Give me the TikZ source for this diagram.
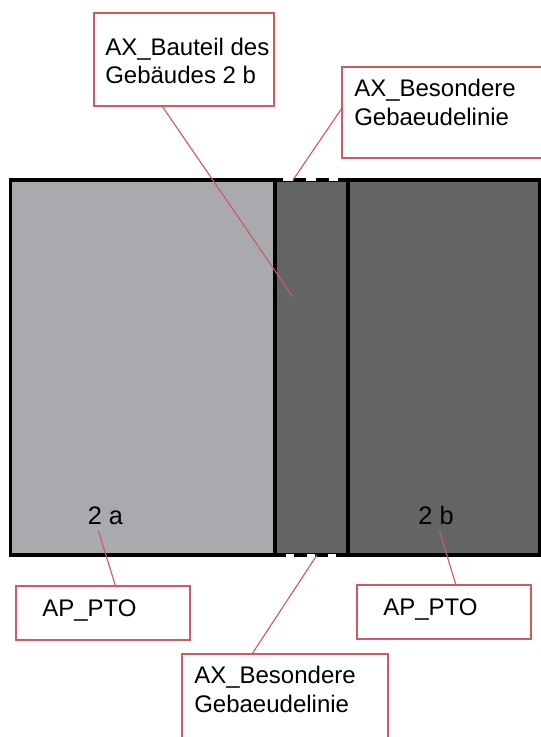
\documentclass[tikz,border=0pt]{standalone}
\usepackage{fontspec}
\usetikzlibrary{calc}
\setmainfont{Liberation Sans}
\definecolor{calloutred}{HTML}{CF5A60}
\definecolor{lightgrey}{HTML}{A9AAAD}
\definecolor{darkgrey}{HTML}{636466}
\tikzset{
  calloutbox/.style={draw=calloutred,line width=0.95pt,fill=white,rectangle,anchor=north west,inner sep=0pt,outer sep=0pt},
  callouttext/.style={anchor=base west,inner sep=0pt,font=\fontsize{18pt}{21pt}\selectfont,align=left,text=black},
  partlabel/.style={anchor=base,inner sep=0pt,font=\fontsize{19pt}{21pt}\selectfont,text=black},
  leader/.style={draw=calloutred,line width=0.85pt},
  outline/.style={draw=black,line width=2.35pt},
  gapmark/.style={draw=white,line width=3pt}
}
\begin{document}
\begin{tikzpicture}[x=0.75pt,y=-0.75pt]
\useasboundingbox (0,0) rectangle (541,737);
\fill[lightgrey] (11,180) rectangle (275,555);
\fill[darkgrey] (275,180) rectangle (540,555);
\draw[outline] (10.8,180) rectangle (539.6,555);
\draw[outline] (275,180) -- (275,555);
\draw[outline] (348,180) -- (348,555);
\draw[gapmark] (283,178.7) -- (293,178.7) (306,178.7) -- (316,178.7) (329,178.7) -- (338,178.7);
\draw[gapmark] (286,556.3) -- (294,556.3) (307,556.3) -- (315,556.3) (328,556.3) -- (336,556.3);
% boxes
\node[calloutbox,minimum width=180*0.75pt,minimum height=93*0.75pt] (bauteil) at (94,13) {};
\node[calloutbox,minimum width=210*0.75pt,minimum height=91*0.75pt] (linieoben) at (342,67) {};
\node[calloutbox,minimum width=174*0.75pt,minimum height=54*0.75pt] (ptoa) at (16,586) {};
\node[calloutbox,minimum width=174*0.75pt,minimum height=54*0.75pt] (ptob) at (357,585) {};
\node[calloutbox,minimum width=206*0.75pt,minimum height=95*0.75pt] (linieunten) at (182,654) {};
% texts
\node[callouttext] (tbauteila) at (105,55.5) {AX\_Bauteil des};
\node[callouttext] (tbauteilb) at (105,83.5) {Gebäudes 2 b};
\node[callouttext] (tobena) at (354,97) {AX\_Besondere};
\node[callouttext] (tobenb) at (354,126) {Gebaeudelinie};
\node[callouttext] (tptoa) at (42,616) {AP\_PTO};
\node[callouttext] (tptob) at (383,615) {AP\_PTO};
\node[callouttext] (tuntena) at (194,683.5) {AX\_Besondere};
\node[callouttext] (tuntenb) at (194,712.5) {Gebaeudelinie};
\node[partlabel] (zweia) at (105.5,524.5) {2 a};
\node[partlabel] (zweib) at (436,524.5) {2 b};
% free ends
\coordinate (tipbauteil) at (293,297);
\coordinate (tipoben) at (293,180);
\coordinate (tipunten) at (317,555);
\coordinate (tipa) at (98.5,531);
\coordinate (tipb) at (439.5,531);
\draw[leader] ($(bauteil.south west)+(68,0)$) -- (tipbauteil);
\draw[leader] ($(linieoben.north west)+(0,41)$) -- (tipoben);
\draw[leader] ($(linieunten.north west)+(70,0)$) -- (tipunten);
\draw[leader] ($(ptoa.north west)+(99.5,0)$) -- (tipa);
\draw[leader] ($(ptob.north west)+(99,0)$) -- (tipb);
\end{tikzpicture}
\end{document}
